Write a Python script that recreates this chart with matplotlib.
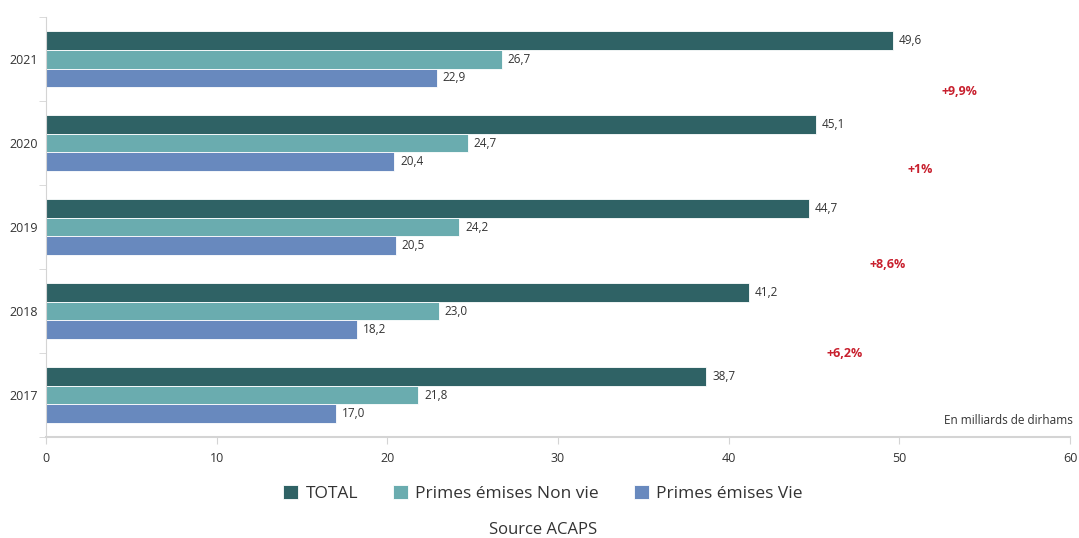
import numpy as np
import matplotlib.pyplot as plt

years = ["2017", "2018", "2019", "2020", "2021"]
total = [38.7, 41.2, 44.7, 45.1, 49.6]
non_vie = [21.8, 23.0, 24.2, 24.7, 26.7]
vie = [17.0, 18.2, 20.5, 20.4, 22.9]
series_names = ["TOTAL", "Primes émises Non vie", "Primes émises Vie"]
colors = ["#2f6265", "#6aacaf", "#6889be"]

growth_labels = ["+6,2%", "+8,6%", "+1%", "+9,9%"]
growth_x = [46.8, 49.3, 51.2, 53.5]
growth_y = [0.49, 1.56, 2.69, 3.61]

plt.rcParams['font.family'] = ['Open Sans', 'DejaVu Sans']

fig = plt.figure(figsize=(10.79, 5.38), dpi=100)
ax = fig.add_axes([0.0426, 0.1877, 0.9491, 0.7803])

y = np.arange(len(years))
h = 0.222
grey = "#d4d4d4"
for i, (vals, name, c) in enumerate(zip([total, non_vie, vie], series_names, colors)):
    pos = y + h * (1 - i)
    ax.barh(pos, vals, height=h, color=c, edgecolor="white", linewidth=0.6, label=name)
    for p, v in zip(pos, vals):
        ax.text(v + 0.35, p, f"{v:.1f}".replace(".", ","), va="center", ha="left",
                fontsize=8.5, color="#333333")

# taux de croissance du total
for lab, gx, gy in zip(growth_labels, growth_x, growth_y):
    ax.text(gx, gy, lab, ha="center", va="center", fontsize=9, fontweight="bold", color="#c8202e")

ax.set_xlim(0, 60)
ax.set_ylim(-0.5, 4.5)
ax.set_xticks(np.arange(0, 61, 10))
ax.set_yticks(y)
ax.set_yticklabels(years)
ax.set_yticks(np.arange(-0.5, 5, 1), minor=True)
ax.tick_params(axis="y", which="major", length=0, labelsize=9, colors="#333333", pad=6)
ax.tick_params(axis="y", which="minor", length=5, color=grey)
ax.tick_params(axis="x", length=5, color=grey, labelsize=9, labelcolor="#333333", pad=6)
for s in ["top", "right"]:
    ax.spines[s].set_visible(False)
ax.spines["left"].set_color(grey)
ax.spines["bottom"].set_color(grey)
ax.spines["bottom"].set_linewidth(1.5)

ax.text(1.003, 0.025, "En milliards de dirhams", transform=ax.transAxes, ha="right", va="bottom",
        fontsize=8.5, color="#333333")

fig.legend(loc="center", bbox_to_anchor=(0.503, 0.083), ncol=3, frameon=False, fontsize=12.5,
           handlelength=0.9, handleheight=0.9, handletextpad=0.4, columnspacing=2.0,
           labelcolor="#333333")
fig.text(0.503, 0.015, "Source ACAPS", ha="center", va="center", fontsize=12, color="#333333")

fig.savefig("out.png", dpi=100)
